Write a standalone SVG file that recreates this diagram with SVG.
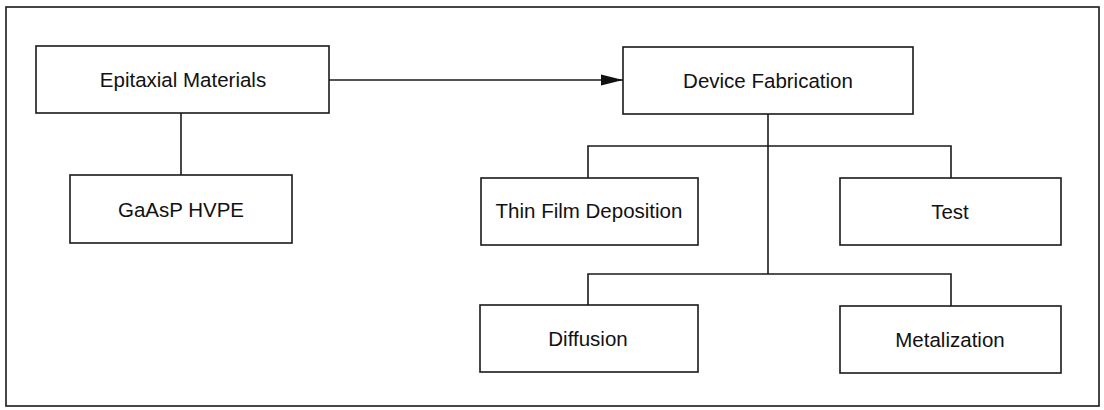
<svg xmlns="http://www.w3.org/2000/svg" width="1104" height="410" viewBox="0 0 1104 410">
<style>
.box{fill:#fff;stroke:#1a1a1a;stroke-width:1.6}
.frame{fill:none;stroke:#1a1a1a;stroke-width:1.6}
.con{fill:none;stroke:#1a1a1a;stroke-width:1.6}
text{font-family:"Liberation Sans",Arial,sans-serif;font-size:20.5px;fill:#111;text-anchor:middle}
</style>
<defs>
<marker id="arr" markerUnits="userSpaceOnUse" markerWidth="22" markerHeight="12" refX="22" refY="6" orient="auto">
<path d="M0,0.5 L22,6 L0,11.5 Z" fill="#111"/>
</marker>
</defs>
<rect width="1104" height="410" fill="#fff"/>
<rect class="frame" x="6" y="7" width="1093" height="399"/>
<g id="connectors">
<line class="con" x1="329" y1="80" x2="623" y2="80" marker-end="url(#arr)"/>
<line class="con" x1="181" y1="113" x2="181" y2="175"/>
<line class="con" x1="768" y1="114" x2="768" y2="274"/>
<polyline class="con" points="588,178 588,146 951,146 951,178"/>
<polyline class="con" points="588,305 588,274 951,274 951,306"/>
</g>
<g id="epitaxial"><rect class="box" x="36" y="46" width="293" height="67"/><text x="183" y="87">Epitaxial Materials</text></g>
<g id="gaasp"><rect class="box" x="70" y="175" width="222" height="68"/><text x="181" y="217">GaAsP HVPE</text></g>
<g id="device"><rect class="box" x="623" y="47" width="290" height="67"/><text x="768" y="88">Device Fabrication</text></g>
<g id="thinfilm"><rect class="box" x="481" y="178" width="217" height="67"/><text x="589" y="218">Thin Film Deposition</text></g>
<g id="test"><rect class="box" x="840" y="178" width="221" height="67"/><text x="950" y="219">Test</text></g>
<g id="diffusion"><rect class="box" x="480" y="305" width="218" height="67"/><text x="588" y="346">Diffusion</text></g>
<g id="metalization"><rect class="box" x="840" y="306" width="221" height="67"/><text x="950" y="347">Metalization</text></g>
</svg>
